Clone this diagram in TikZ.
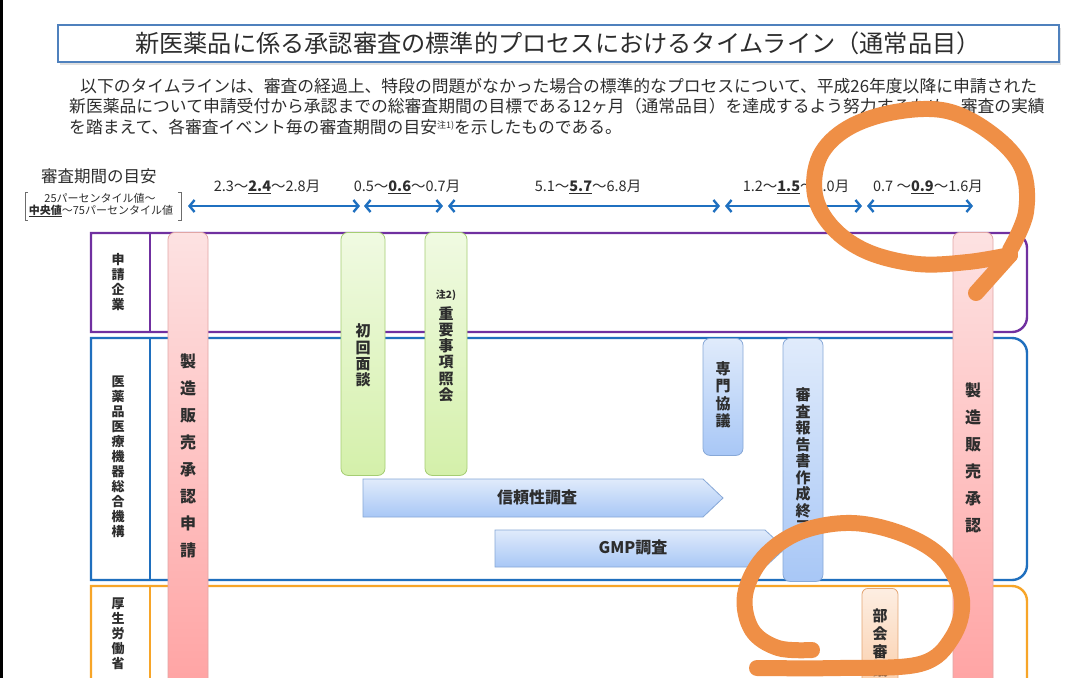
\documentclass[tikz,border=0pt]{standalone}
\usepackage{fontspec}
\setmainfont{Noto Sans CJK JP}
\usetikzlibrary{arrows.meta,shadings}
\definecolor{ttl}{RGB}{79,129,189}
\definecolor{txt}{RGB}{45,45,45}
\definecolor{tlblue}{RGB}{31,112,192}
\definecolor{purp}{RGB}{112,48,160}
\definecolor{pmda}{RGB}{31,111,190}
\definecolor{mhlw}{RGB}{247,165,40}
\definecolor{pinkT}{RGB}{253,226,226}
\definecolor{pinkB}{RGB}{255,160,160}
\definecolor{pinkE}{RGB}{225,165,165}
\definecolor{grnT}{RGB}{240,250,226}
\definecolor{grnB}{RGB}{212,240,170}
\definecolor{grnE}{RGB}{165,205,115}
\definecolor{bluT}{RGB}{224,235,251}
\definecolor{bluB}{RGB}{168,199,246}
\definecolor{bluE}{RGB}{135,168,215}
\definecolor{orT}{RGB}{253,238,226}
\definecolor{orB}{RGB}{250,200,160}
\definecolor{orE}{RGB}{228,165,115}
\definecolor{scrib}{RGB}{239,143,70}
\tikzset{
  lane/.style={line width=2.4pt},
  tl/.style={draw=tlblue, line width=2.4pt, arrows={Straight Barb[length=5pt,width=12pt]-Straight Barb[length=5pt,width=12pt]}},
  tllab/.style={text=txt, inner sep=0, font=\fontsize{14.5}{15}\selectfont},
  para/.style={text=txt, inner sep=0, anchor=west, font=\fontsize{16.8}{18}\selectfont},
  lanelab/.style={align=center, inner sep=0, text=txt, font=\bfseries\fontsize{13}{15}\selectfont},
  barlab/.style={align=center, inner sep=0, text=txt, font=\bfseries\fontsize{15}{16.2}\selectfont},
  biglab/.style={align=center, inner sep=0, text=txt, font=\bfseries\fontsize{16}{27}\selectfont},
  pinkbar/.style={draw=pinkE, line width=0.8pt, rounded corners=7pt, top color=pinkT, bottom color=pinkB, minimum width=40pt, anchor=north, inner sep=0},
  grnbar/.style={draw=grnE, line width=0.8pt, rounded corners=7pt, top color=grnT, bottom color=grnB, anchor=north, inner sep=0},
  blubar/.style={draw=bluE, line width=0.8pt, rounded corners=7pt, top color=bluT, bottom color=bluB, anchor=north, inner sep=0},
  orbar/.style={draw=orE, line width=0.8pt, rounded corners=6pt, top color=orT, bottom color=orB, anchor=north, inner sep=0},
  bluarrow/.style={draw=bluE, line width=0.8pt, top color=bluT, bottom color=bluB},
  scribble/.style={draw=scrib, line width=16pt, line cap=round, line join=round}
}
\begin{document}
\begin{tikzpicture}[x=1pt,y=-1pt]
\useasboundingbox (0,0) rectangle (1080,678);
\fill[white] (0,0) rectangle (1080,678);
\clip (0,0) rectangle (1080,678);
\fill[black] (0,0) rectangle (3,678);

% title
\fill[black!12] (60,28) rectangle (1061,65);
\node[draw=ttl, line width=2pt, fill=white, minimum width=1001pt, minimum height=37pt, inner sep=0, text=txt, font=\fontsize{24.2}{26}\selectfont] (title) at (558,43.5) {新医薬品に係る承認審査の標準的プロセスにおけるタイムライン（通常品目）};

% paragraph
\node[para] (p1) at (80,86) {以下のタイムラインは、審査の経過上、特段の問題がなかった場合の標準的なプロセスについて、平成26年度以降に申請された};
\node[para] (p2) at (69,106.5) {新医薬品について申請受付から承認までの総審査期間の目標である12ヶ月（通常品目）を達成するよう努力するため、審査の実績};
\node[para] (p3) at (69,127) {を踏まえて、各審査イベント毎の審査期間の目安{\fontsize{9}{9}\selectfont\raisebox{5pt}{注1)}}を示したものである。};

% legend
\node[text=txt, inner sep=0, font=\fontsize{16.5}{18}\selectfont] (leg) at (99,176) {審査期間の目安};
\node[text=txt, inner sep=0, font=\fontsize{11}{12}\selectfont] (leg1) at (100,198) {25パーセンタイル値～};
\node[text=txt, inner sep=0, font=\fontsize{11}{12}\selectfont] (leg2) at (101,211) {\underline{\textbf{中央値}}～75パーセンタイル値};
\draw[txt!70, line width=0.8pt] (28,192) -- (25,192) -- (25,220) -- (28,220);
\draw[txt!70, line width=0.8pt] (178,192) -- (181,192) -- (181,220) -- (178,220);

% timeline arrows
\coordinate (a0) at (188,206); \coordinate (a1) at (360,206);
\coordinate (b0) at (364,206); \coordinate (b1) at (443,206);
\coordinate (c0) at (448,206); \coordinate (c1) at (720,206);
\coordinate (d0) at (725,206); \coordinate (d1) at (862,206);
\coordinate (e0) at (867,206); \coordinate (e1) at (973,206);
\draw[tl] (a0) -- (a1);
\draw[tl] (b0) -- (b1);
\draw[tl] (c0) -- (c1);
\draw[tl] (d0) -- (d1);
\draw[tl] (e0) -- (e1);
\node[tllab] (l1) at (267,187) {2.3～\underline{\textbf{2.4}}～2.8月};
\node[tllab] (l2) at (407,187) {0.5～\underline{\textbf{0.6}}～0.7月};
\node[tllab] (l3) at (588,187) {5.1～\underline{\textbf{5.7}}～6.8月};
\node[tllab] (l4) at (796,187) {1.2～\underline{\textbf{1.5}}～2.0月};
\node[tllab] (l5) at (928,187) {0.7 ～\underline{\textbf{0.9}}～1.6月};

% lanes
\draw[lane, purp] (91,233) -- (1012,233) arc[start angle=-90, end angle=0, radius=15] -- (1027,317) arc[start angle=0, end angle=90, radius=15] -- (91,332) -- cycle;
\draw[lane, purp] (150,233) -- (150,332);
\draw[lane, pmda] (91,338) -- (1012,338) arc[start angle=-90, end angle=0, radius=15] -- (1027,565) arc[start angle=0, end angle=90, radius=15] -- (91,580) -- cycle;
\draw[lane, pmda] (150,338) -- (150,580);
\draw[lane, mhlw] (91,586) -- (1012,586) arc[start angle=-90, end angle=0, radius=15] -- (1027,700) -- (91,700) -- cycle;
\draw[lane, mhlw] (150,586) -- (150,700);

\node[lanelab] (lane1) at (118,282) {申\\請\\企\\業};
\node[lanelab] (lane2) at (118,457) {医\\薬\\品\\医\\療\\機\\器\\総\\合\\機\\構};
\node[lanelab] (lane3) at (118,634) {厚\\生\\労\\働\\省};

% pentagon arrows
\path[bluarrow] (363,479) -- (703,479) -- (723,498) -- (703,517) -- (363,517) -- cycle;
\node[text=txt, inner sep=0, font=\bfseries\fontsize{16}{16}\selectfont] (rel) at (537,497) {信頼性調査};
\path[bluarrow] (495,530) -- (765,530) -- (785,548.5) -- (765,567) -- (495,567) -- cycle;
\node[text=txt, inner sep=0, font=\bfseries\fontsize{16}{16}\selectfont] (gmp) at (633,547) {GMP調査};

% bars
\node[pinkbar, minimum height=480pt] (appl) at (188,232) {};
\node[pinkbar, minimum height=480pt] (appr) at (973,232) {};
\node[grnbar, minimum width=44pt, minimum height=243pt] (first) at (363,232) {};
\node[grnbar, minimum width=42pt, minimum height=243pt] (inq) at (446,232) {};
\node[blubar, minimum width=40pt, minimum height=117pt] (expert) at (723,338) {};
\node[blubar, minimum width=40pt, minimum height=243pt] (report) at (803,338) {};
\node[orbar, minimum width=36pt, minimum height=120pt] (council) at (880,588) {};

\node[biglab] (applt) at (188,456) {製\\造\\販\\売\\承\\認\\申\\請};
\node[biglab] (apprt) at (973,458) {製\\造\\販\\売\\承\\認};
\node[barlab] (firstt) at (363,355.5) {初\\回\\面\\談};
\node[text=txt, inner sep=0, font=\bfseries\fontsize{10}{10}\selectfont] (note2) at (446,295) {注2)};
\node[barlab] (inqt) at (446,354) {重\\要\\事\\項\\照\\会};
\node[barlab, font=\bfseries\fontsize{15}{17.5}\selectfont] (expertt) at (723,395) {専\\門\\協\\議};
\node[barlab, font=\bfseries\fontsize{15}{16.5}\selectfont] (reportt) at (803,461) {審\\査\\報\\告\\書\\作\\成\\終\\了};
\node[barlab, font=\bfseries\fontsize{15}{18}\selectfont] (councilt) at (880,643) {部\\会\\審\\議};

% hand-drawn orange marks
\draw[scribble] plot[smooth, tension=0.6] coordinates {(1010,250) (1026,212) (1022,168) (992,134) (947,111) (895,112) (848,128) (820,156) (815,195) (833,228) (868,252) (918,264) (968,262) (1010,255)};
\draw[scribble] (1010,255) -- (976,293);
\draw[scribble] plot[smooth, tension=0.6] coordinates {(757,668) (840,668) (920,664) (952,638) (962,600) (944,560) (905,535) (852,523) (800,532) (763,558) (745,595) (752,630) (778,648) (812,650)};
\end{tikzpicture}
\end{document}
